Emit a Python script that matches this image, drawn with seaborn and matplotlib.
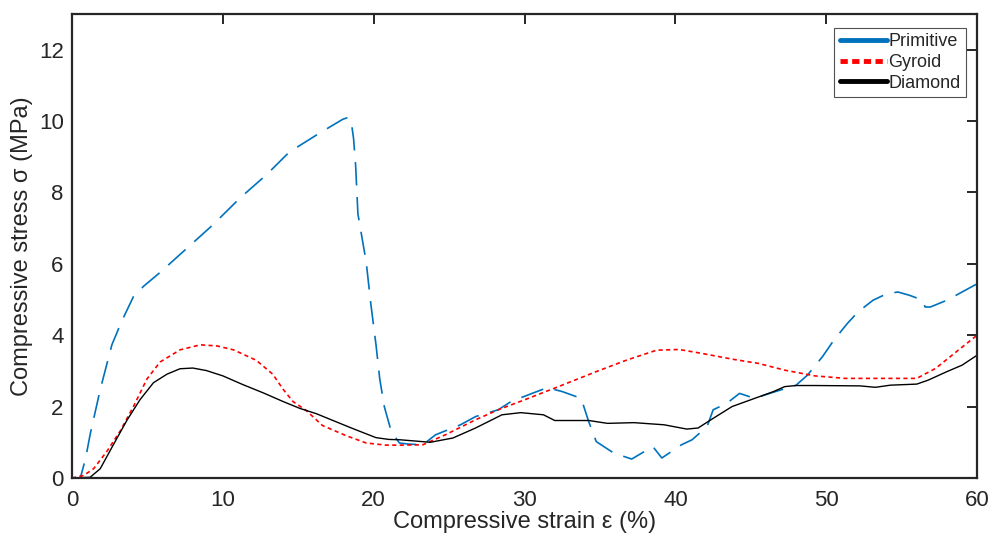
import numpy as np
import pandas as pd
import seaborn as sns
import matplotlib.pyplot as plt
from matplotlib.lines import Line2D

sns.set_style('white')
plt.rcParams['font.family'] = ['Liberation Sans', 'DejaVu Sans']

# Primitive lattice (blue dashed)
prim_strain = [0, 0.55, 0.9, 1.2, 1.87, 2.64, 3.3, 4.07, 4.74, 5.84, 7.6, 9.36, 11.1, 12.9, 14.4,
               16.4, 17.95, 18.3, 18.5, 18.66, 18.8, 18.95, 19.5, 19.8, 20.15, 20.4, 20.7, 21.15,
               21.7, 22.3, 23.25, 24.1, 25.75, 26.75, 28.25, 29.1, 30.5, 31.5, 32.5, 33.75, 34.25,
               34.75, 35.9, 37.1, 38.5, 39.1, 40.4, 41.1, 42.1, 42.5, 43.4, 44.25, 45.25, 46.25,
               48.0, 48.75, 49.75, 50.5, 51.4, 52.1, 53.1, 54.0, 54.75, 55.5, 56.4, 56.55, 56.9,
               58.0, 59.0, 60.0]
prim_stress = [0, 0, 0.55, 1.22, 2.48, 3.73, 4.4, 5.08, 5.37, 5.76, 6.43, 7.1, 7.83, 8.5, 9.13,
               9.66, 10.05, 10.1, 10.0, 9.52, 8.75, 7.4, 6.05, 4.9, 3.73, 2.77, 2.0, 1.32,
               0.98, 0.95, 0.93, 1.21, 1.49, 1.72, 1.91, 2.14, 2.37, 2.53, 2.42, 2.23, 1.58,
               1.02, 0.70, 0.53, 0.88, 0.56, 0.93, 1.07, 1.44, 1.91, 2.09, 2.37, 2.23, 2.37,
               2.60, 2.88, 3.4, 3.86, 4.33, 4.65, 4.98, 5.16, 5.21, 5.12, 4.98, 4.79, 4.79,
               4.98, 5.21, 5.44]

# Gyroid lattice (red dotted)
gyr_strain = [0, 0.77, 1.43, 2.3, 3.2, 4.07, 4.96, 5.84, 7.16, 8.5, 9.6, 10.7, 12.2, 13.3, 14.0,
              14.65, 15.5, 16.6, 18.2, 19.5, 20.8, 21.75, 23.25, 24.75, 26.75, 28.25, 30.0,
              32.25, 34.75, 36.75, 38.75, 40.25, 41.75, 43.75, 45.5, 47.25, 49.25, 51.25, 53.0,
              54.75, 56.0, 57.25, 58.75, 60.0]
gyr_stress = [0, 0.07, 0.26, 0.74, 1.32, 2.0, 2.77, 3.25, 3.59, 3.73, 3.70, 3.59, 3.3, 2.91, 2.48,
              2.14, 1.9, 1.47, 1.18, 0.98, 0.92, 0.92, 0.93, 1.21, 1.63, 1.91, 2.19,
              2.56, 2.98, 3.30, 3.58, 3.6, 3.49, 3.33, 3.21, 3.02, 2.86, 2.79, 2.79,
              2.79, 2.79, 3.07, 3.58, 4.0]

# Diamond lattice (black solid)
dia_strain = [0, 1.2, 1.87, 2.75, 3.63, 4.5, 5.4, 6.3, 7.16, 8.0, 8.9, 10.0, 11.3, 12.7, 14.0,
              15.1, 16.2, 17.3, 18.4, 19.3, 20.15, 21.0, 21.75, 23.75, 25.25, 26.75, 28.5,
              29.75, 31.25, 32.0, 34.25, 35.5, 37.25, 39.25, 40.75, 41.5, 42.5, 43.75, 45.25,
              46.5, 47.25, 48.0, 49.25, 52.25, 53.25, 54.25, 56.0, 56.75, 58.0, 59.0, 60.0]
dia_stress = [0, 0.02, 0.26, 0.94, 1.61, 2.19, 2.67, 2.91, 3.06, 3.08, 3.01, 2.86, 2.62, 2.38, 2.14,
              1.95, 1.8, 1.61, 1.42, 1.27, 1.13, 1.08, 1.07, 1.0, 1.12, 1.40, 1.77,
              1.83, 1.77, 1.61, 1.61, 1.53, 1.55, 1.49, 1.37, 1.40, 1.67, 2.0, 2.23,
              2.42, 2.56, 2.59, 2.59, 2.58, 2.54, 2.60, 2.63, 2.74, 2.98, 3.16, 3.44]

blue = '#0072BD'
red = '#FF0000'
black = '#000000'

fig = plt.figure(figsize=(9.91, 5.41), dpi=100)
ax = fig.add_axes([0.0727, 0.1165, 0.9133, 0.8577])

prim = pd.DataFrame({'strain': prim_strain, 'stress': prim_stress})
gyr = pd.DataFrame({'strain': gyr_strain, 'stress': gyr_stress})
dia = pd.DataFrame({'strain': dia_strain, 'stress': dia_stress})

sns.lineplot(data=prim, x='strain', y='stress', ax=ax, color=blue, lw=1.2,
             linestyle=(0, (14, 7)), sort=False, estimator=None)
sns.lineplot(data=gyr, x='strain', y='stress', ax=ax, color=red, lw=1.2,
             linestyle=(0, (2.5, 2)), sort=False, estimator=None)
sns.lineplot(data=dia, x='strain', y='stress', ax=ax, color=black, lw=1.0,
             sort=False, estimator=None)

ax.set_xlim(0, 60)
ax.set_ylim(0, 13)
ax.set_xticks(range(0, 61, 10))
ax.set_yticks(range(0, 13, 2))
ax.set_xlabel('Compressive strain ε (%)', fontsize=17, labelpad=0)
ax.set_ylabel('Compressive stress σ (MPa)', fontsize=17, labelpad=4)
ax.tick_params(direction='in', length=7, width=1.4, labelsize=16, colors='#262626',
               top=True, right=True)
ax.tick_params(axis='x', pad=9)
ax.tick_params(axis='y', pad=6)
for s in ax.spines.values():
    s.set_color('#262626')
    s.set_linewidth(1.6)

handles = [Line2D([], [], color=blue, lw=3.5),
           Line2D([], [], color=red, lw=3.5, linestyle=(0, (1.5, 0.9))),
           Line2D([], [], color=black, lw=3.5)]
leg = ax.legend(handles, ['Primitive', 'Gyroid', 'Diamond'], loc='upper right',
                bbox_to_anchor=(0.988, 0.97), fontsize=13, frameon=True, fancybox=False,
                handlelength=2.6, handletextpad=0.1, labelspacing=0.2, borderpad=0.3,
                borderaxespad=0.0)
leg.get_frame().set_edgecolor('#262626')
leg.get_frame().set_linewidth(0.8)

fig.savefig('out.png', dpi=100)
